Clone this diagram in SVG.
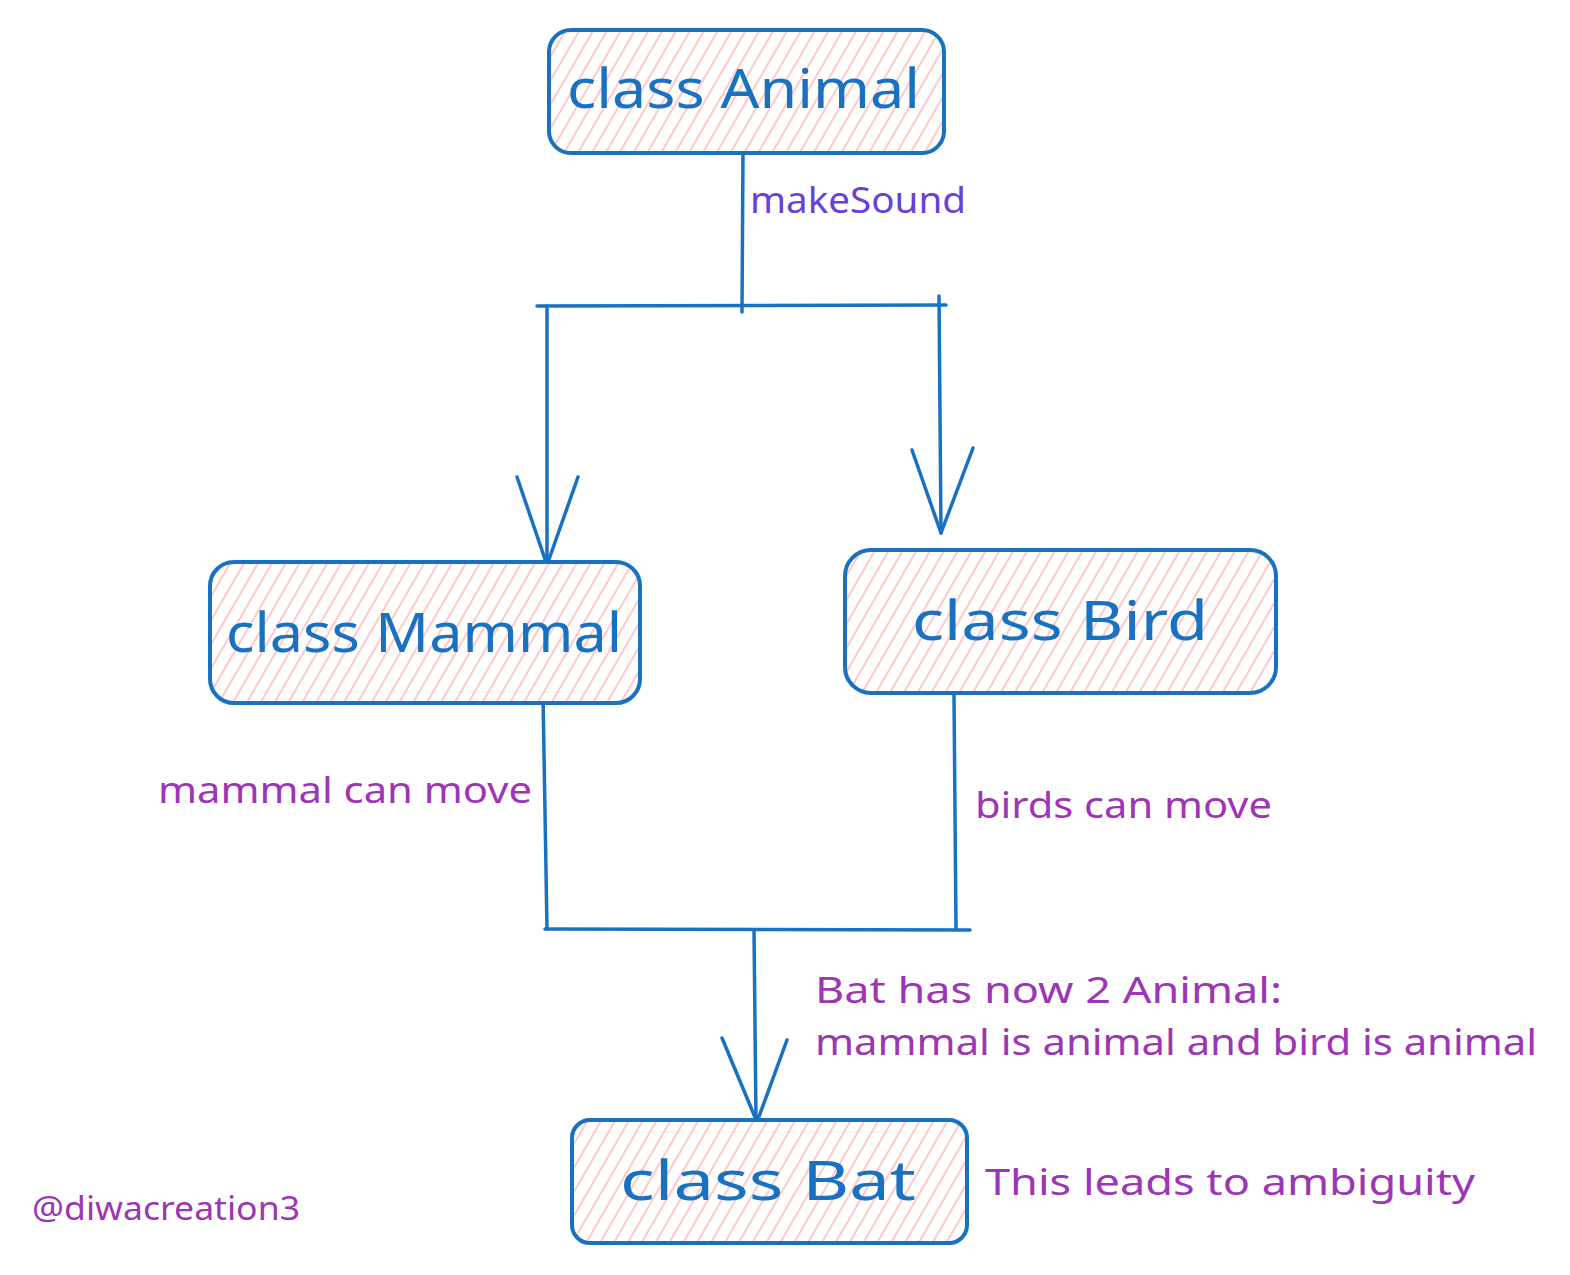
<svg xmlns="http://www.w3.org/2000/svg" width="1570" height="1275" viewBox="0 0 1570 1275">
<style>
.box{fill:url(#hatch);stroke:#1971c2;stroke-width:4}
.title{font-family:"Comic Sans MS","Noto Sans","Liberation Sans",sans-serif;font-size:54px;fill:#1971c2}
.conn{fill:none;stroke:#1971c2;stroke-width:3.5;stroke-linecap:round;stroke-linejoin:round}
.note{font-family:"Comic Sans MS","Noto Sans","Liberation Sans",sans-serif;font-size:36px;fill:#9c36b5}
</style>
<defs>
<pattern id="hatch" patternUnits="userSpaceOnUse" width="12" height="12" patternTransform="rotate(30)">
<rect width="12" height="12" fill="#ffffff"/>
<line x1="1" y1="0" x2="1" y2="12" stroke="#ffc9c9" stroke-width="2"/>
</pattern>
</defs>
<rect width="1570" height="1275" fill="#ffffff"/>
<g id="connectors">
<path class="conn" d="M743 150 L742 312"/>
<path class="conn" d="M537 306 L946 305"/>
<path class="conn" d="M547 306 L547 565"/>
<path class="conn" d="M517 477 L547 565 L578 477"/>
<path class="conn" d="M939 296 L941 533"/>
<path class="conn" d="M912 450 L941 533 L973 448"/>
<path class="conn" d="M543 695 L547 929"/>
<path class="conn" d="M954 695 L956 929"/>
<path class="conn" d="M545 929 L970 930"/>
<path class="conn" d="M754 930 L756 1120"/>
<path class="conn" d="M722 1038 L757 1122 L787 1040"/>
<text x="750" y="213" class="note" style="fill:#6741d9" textLength="216" lengthAdjust="spacingAndGlyphs">makeSound</text>
<text x="158" y="803" class="note" textLength="374" lengthAdjust="spacingAndGlyphs">mammal can move</text>
<text x="975" y="818" class="note" textLength="297" lengthAdjust="spacingAndGlyphs">birds can move</text>
</g>
<g id="animal">
<rect class="box" x="549" y="30" width="395" height="123" rx="22"/>
<text x="567" y="108" class="title" textLength="353" lengthAdjust="spacingAndGlyphs">class Animal</text>
</g>
<g id="mammal">
<rect class="box" x="210" y="562" width="430" height="141" rx="24"/>
<text x="226" y="652" class="title" textLength="396" lengthAdjust="spacingAndGlyphs">class Mammal</text>
</g>
<g id="bird">
<rect class="box" x="845" y="550" width="431" height="143" rx="26"/>
<text x="912" y="640" class="title" textLength="296" lengthAdjust="spacingAndGlyphs">class Bird</text>
</g>
<g id="bat">
<rect class="box" x="572" y="1120" width="395" height="123" rx="18"/>
<text x="620" y="1200" class="title" textLength="296" lengthAdjust="spacingAndGlyphs">class Bat</text>
</g>
<g id="notes">
<text x="815" y="1003" class="note" textLength="467" lengthAdjust="spacingAndGlyphs">Bat has now 2 Animal:</text>
<text x="815" y="1055" class="note" textLength="722" lengthAdjust="spacingAndGlyphs">mammal is animal and bird is animal</text>
<text x="985" y="1195" class="note" textLength="490" lengthAdjust="spacingAndGlyphs">This leads to ambiguity</text>
<text x="32" y="1220" class="note" style="font-size:32px" textLength="268" lengthAdjust="spacingAndGlyphs">@diwacreation3</text>
</g>
</svg>
